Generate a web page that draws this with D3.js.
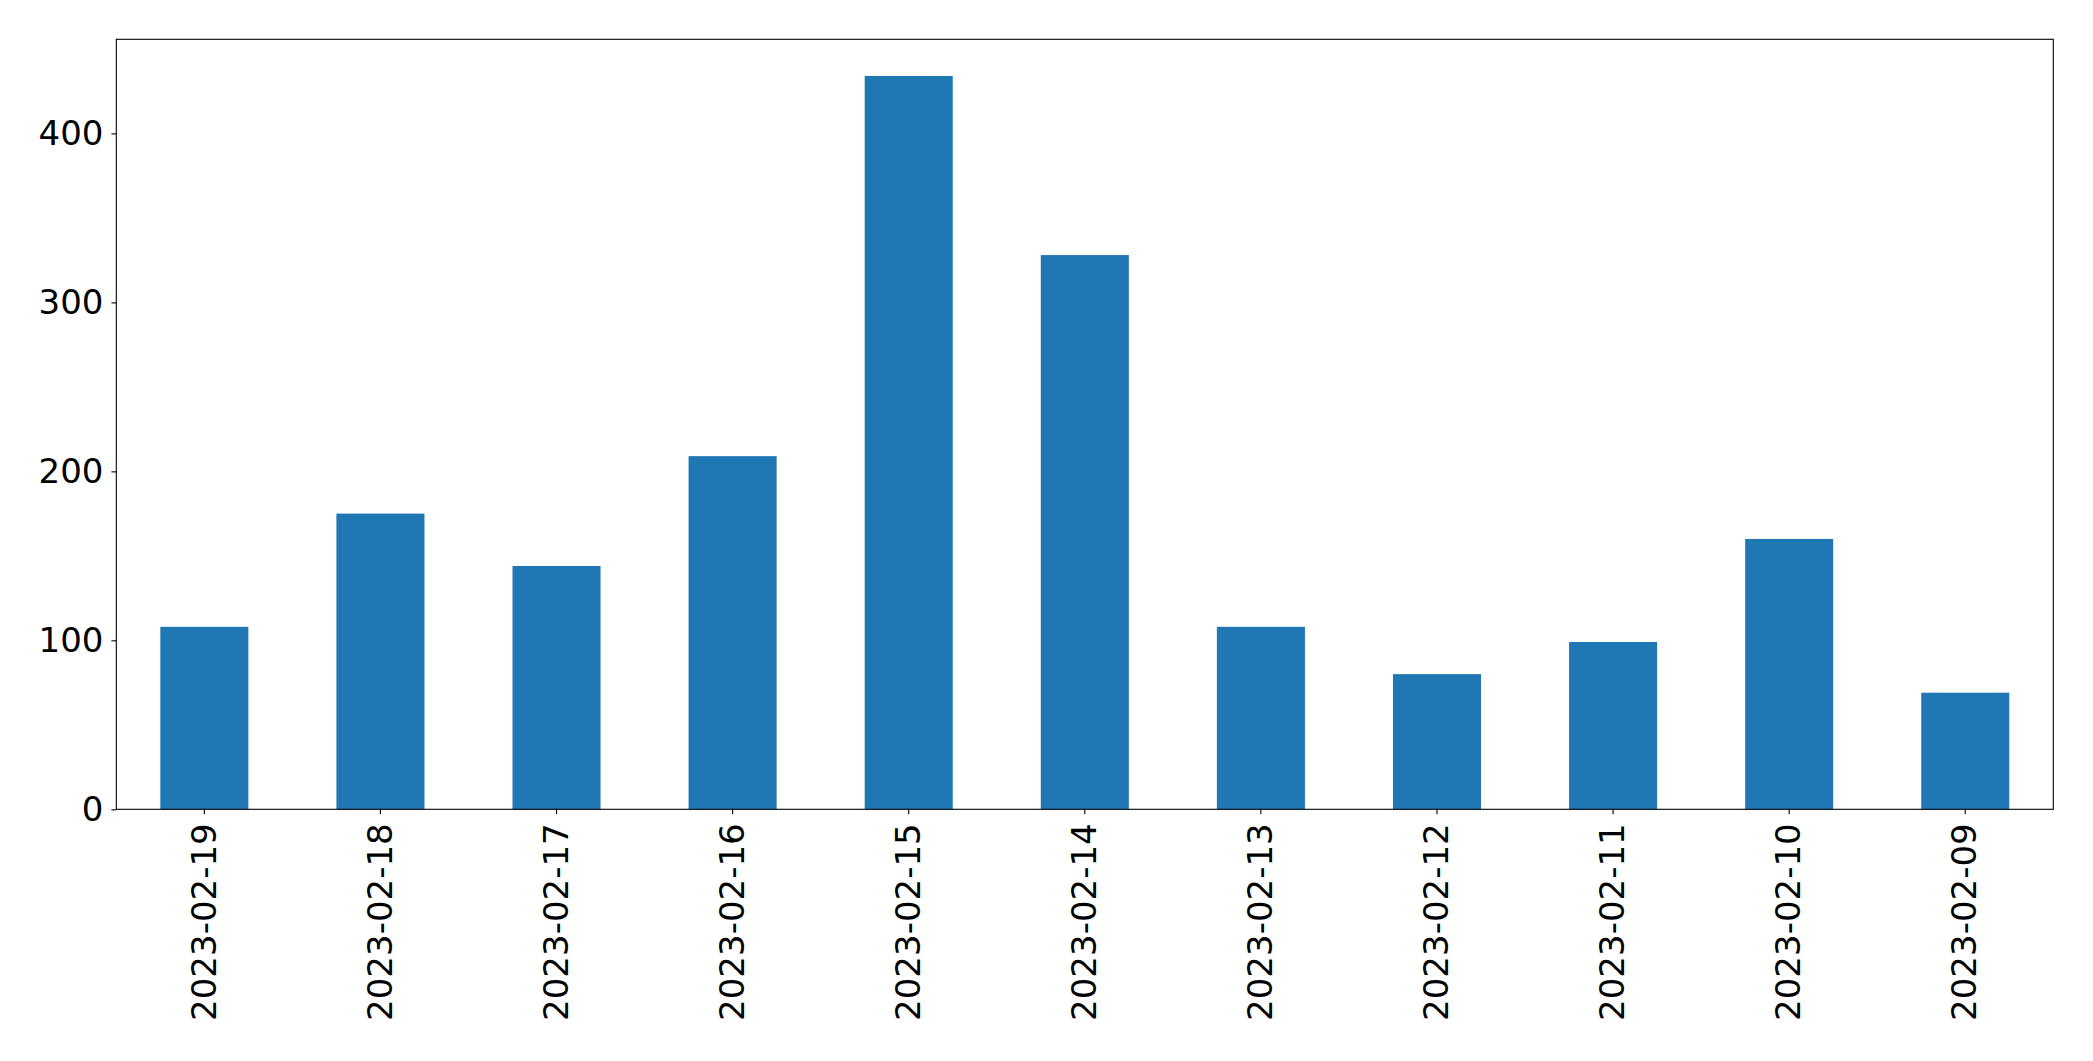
<!DOCTYPE html>
<html>
<head>
<meta charset="utf-8">
<script src="https://cdn.jsdelivr.net/npm/d3@7"></script>
<style>
  html, body { margin: 0; padding: 0; background: #fff; }
  svg { display: block; }
  text { font-family: "DejaVu Sans", sans-serif; fill: #000; }
</style>
</head>
<body>
<svg id="chart" width="2093" height="1061"></svg>
<script>
const categories = ["2023-02-19","2023-02-18","2023-02-17","2023-02-16","2023-02-15","2023-02-14","2023-02-13","2023-02-12","2023-02-11","2023-02-10","2023-02-09"];
const values = [108, 175, 144, 209, 434, 328, 108, 80, 99, 160, 69];
const yTicks = [0, 100, 200, 300, 400];

const svg = d3.select("#chart");
const margin = {left: 116.3, right: 2093 - 2053.3, top: 39.3, bottom: 1061 - 809.3};
const W = 2093, H = 1061;
const x0 = margin.left, x1 = W - margin.right, y0 = H - margin.bottom, y1 = margin.top;

const x = d3.scaleBand().domain(categories).range([x0, x1]).paddingInner(0.5).paddingOuter(0.25);
const yMax = d3.max(values) * 1.05;
const y = d3.scaleLinear().domain([0, yMax]).range([y0, y1]);

const fontSize = 34;

svg.append("g").selectAll("rect").data(values).join("rect")
  .attr("x", (d, i) => x(categories[i]))
  .attr("width", x.bandwidth())
  .attr("y", d => y(d))
  .attr("height", d => y(0) - y(d))
  .attr("fill", "#1f77b4");

// y axis
const yAxis = svg.append("g").attr("transform", `translate(${x0},0)`)
  .call(d3.axisLeft(y).tickValues(yTicks).tickSize(4.9).tickPadding(8).tickFormat(d3.format("d")));
yAxis.select(".domain").remove();
yAxis.selectAll("line").attr("stroke", "#000").attr("stroke-width", 1.1);
yAxis.selectAll("text").attr("font-size", fontSize).attr("font-family", "DejaVu Sans").attr("fill", "#000");

// x axis
const xAxis = svg.append("g").attr("transform", `translate(0,${y0})`)
  .call(d3.axisBottom(x).tickSize(4.9).tickPadding(0));
xAxis.select(".domain").remove();
xAxis.selectAll("line").attr("stroke", "#000").attr("stroke-width", 1.1);
xAxis.selectAll("text")
  .attr("font-size", fontSize).attr("font-family", "DejaVu Sans").attr("fill", "#000")
  .attr("text-anchor", "end")
  .attr("transform", "translate(0,14) rotate(-90)")
  .attr("x", 0).attr("y", 0).attr("dy", "0.33em");

// frame
svg.append("rect")
  .attr("x", x0).attr("y", y1).attr("width", x1 - x0).attr("height", y0 - y1)
  .attr("fill", "none").attr("stroke", "#000").attr("stroke-width", 1.1);
</script>
</body>
</html>
